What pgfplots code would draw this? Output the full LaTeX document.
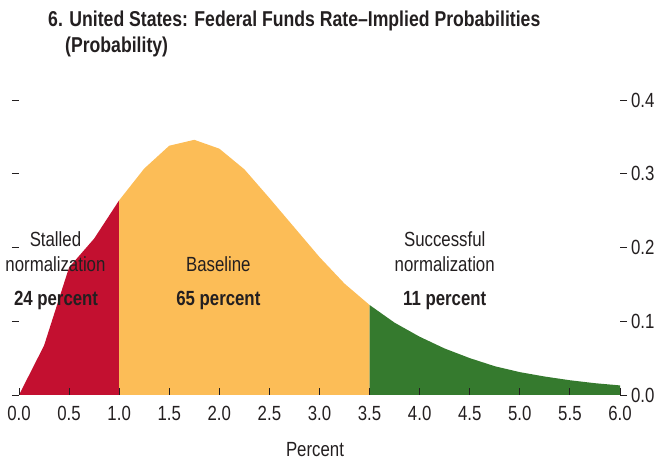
\documentclass[border=0pt]{standalone}
\usepackage{pgfplots}
\pgfplotsset{compat=1.18}
\usepackage{fontspec}
\setmainfont{Liberation Sans}[FakeStretch=0.82]
\definecolor{cred}{HTML}{C31030}
\definecolor{corange}{HTML}{FCBD57}
\definecolor{cgreen}{HTML}{357A2E}
\definecolor{ctext}{HTML}{231F20}
\begin{document}
\fontsize{20.5}{24}\selectfont
\begin{tikzpicture}
\useasboundingbox (-19pt,-67pt) rectangle (648pt,395pt);
\begin{axis}[
  at={(0pt,0pt)}, anchor=south west,
  scale only axis, width=601pt, height=295pt,
  xmin=0, xmax=6, ymin=0, ymax=0.4,
  clip=false,
  axis line style={draw=none},
  axis on top,
  xtick={0,0.5,1,1.5,2,2.5,3,3.5,4,4.5,5,5.5,6},
  ytick={0,0.1,0.2,0.3,0.4},
  tick align=outside,
  major tick length=7pt,
  xtick pos=left,
  ytick pos=both,
  yticklabel pos=right,
  tick style={color=ctext, line width=0.9pt},
  x tick style={yshift=7pt},
  xticklabel style={anchor=base, yshift=-19pt, text=ctext},
  yticklabel style={xshift=-3pt, text=ctext},
  /pgf/number format/assume math mode=true,
  /pgf/number format/.cd, fixed, fixed zerofill, precision=1,
]
\addplot[draw=none, fill=cred] coordinates {
 (0,0) (0.25,0.067) (0.5,0.173) (0.75,0.212) (1,0.264)} \closedcycle;
\addplot[draw=none, fill=corange] coordinates {
 (1,0.264) (1.25,0.307) (1.5,0.338) (1.75,0.346) (2,0.334) (2.25,0.306)
 (2.5,0.267) (2.75,0.227) (3,0.187) (3.25,0.151) (3.5,0.122)} \closedcycle;
\addplot[draw=none, fill=cgreen] coordinates {
 (3.5,0.122) (3.75,0.098) (4,0.079) (4.25,0.063) (4.5,0.050) (4.75,0.039)
 (5,0.031) (5.25,0.025) (5.5,0.020) (5.75,0.016) (6,0.013)} \closedcycle;
\node[anchor=base, text=ctext, inner sep=0] at (axis cs:0.364,0.2007) {Stalled};
\node[anchor=base, text=ctext, inner sep=0] at (axis cs:0.364,0.1668) {normalization};
\node[anchor=base, text=ctext, inner sep=0, font=\bfseries] at (axis cs:0.37,0.1207) {24 percent};
\node[anchor=base, text=ctext, inner sep=0] at (axis cs:1.99,0.1668) {Baseline};
\node[anchor=base, text=ctext, inner sep=0, font=\bfseries] at (axis cs:1.99,0.1207) {65 percent};
\node[anchor=base, text=ctext, inner sep=0] at (axis cs:4.25,0.2007) {Successful};
\node[anchor=base, text=ctext, inner sep=0] at (axis cs:4.25,0.1668) {normalization};
\node[anchor=base, text=ctext, inner sep=0, font=\bfseries] at (axis cs:4.25,0.1207) {11 percent};
\end{axis}
\node[anchor=base west, inner sep=0, text=ctext, font=\fontsize{21.5}{24}\selectfont\bfseries] at (29pt,368pt) {6. United States: Federal Funds Rate–Implied Probabilities};
\node[anchor=base west, inner sep=0, text=ctext, font=\fontsize{21.5}{24}\selectfont\bfseries] at (46pt,342pt) {(Probability)};
\node[anchor=base, inner sep=0, text=ctext] at (296pt,-62pt) {Percent};
\end{tikzpicture}
\end{document}
